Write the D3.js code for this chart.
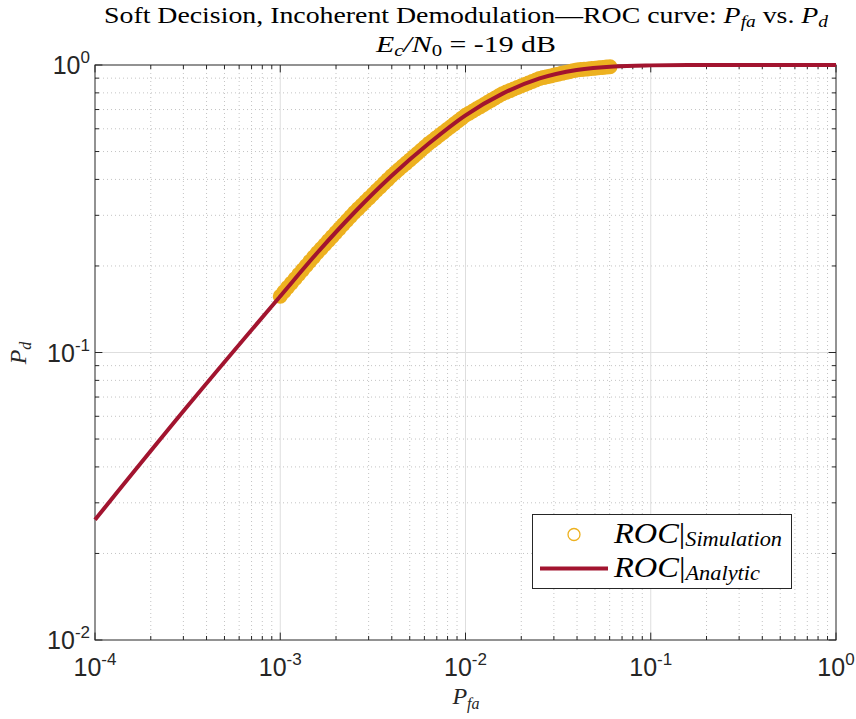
<!DOCTYPE html>
<html><head><meta charset="utf-8">
<script src="https://cdn.jsdelivr.net/npm/d3@7"></script>
<style>body{margin:0;background:#fff} svg{display:block}</style>
</head><body><div id="chart"></div>
<script>
// ---------- data ----------
const xTickValues = [1e-4, 1e-3, 1e-2, 1e-1, 1];
const xTickExponents = ["-4", "-3", "-2", "-1", "0"];
const yTickValues = [1e-2, 1e-1, 1];
const yTickExponents = ["-2", "-1", "0"];

const analyticPfa = [1e-4, 3.162e-4, 1e-3, 1.585e-3, 2.512e-3, 3.981e-3, 6.310e-3, 1e-2,
  1.585e-2, 2.512e-2, 3.981e-2, 6.310e-2, 0.1, 0.1585, 0.2512, 1];
const analyticPd = [0.0262, 0.0651, 0.157, 0.2223, 0.3069, 0.4111, 0.5321, 0.6683,
  0.7951, 0.8981, 0.9610, 0.9890, 0.9970, 0.9995, 1.0, 1.0];

const simPfa = [
  1.000e-3,1.047e-3,1.096e-3,1.148e-3,1.202e-3,1.259e-3,1.318e-3,1.380e-3,1.445e-3,1.514e-3,
  1.585e-3,1.660e-3,1.738e-3,1.820e-3,1.905e-3,1.995e-3,2.089e-3,2.188e-3,2.291e-3,2.399e-3,
  2.512e-3,2.630e-3,2.754e-3,2.884e-3,3.020e-3,3.162e-3,3.311e-3,3.467e-3,3.631e-3,3.802e-3,
  3.981e-3,4.169e-3,4.365e-3,4.571e-3,4.786e-3,5.012e-3,5.248e-3,5.495e-3,5.754e-3,6.026e-3,
  6.310e-3,6.607e-3,6.918e-3,7.244e-3,7.586e-3,7.943e-3,8.318e-3,8.710e-3,9.120e-3,9.550e-3,
  1.000e-2,1.047e-2,1.096e-2,1.148e-2,1.202e-2,1.259e-2,1.318e-2,1.380e-2,1.445e-2,1.514e-2,
  1.585e-2,1.660e-2,1.738e-2,1.820e-2,1.905e-2,1.995e-2,2.089e-2,2.188e-2,2.291e-2,2.399e-2,
  2.512e-2,2.630e-2,2.754e-2,2.884e-2,3.020e-2,3.162e-2,3.311e-2,3.467e-2,3.631e-2,3.802e-2,
  3.981e-2,4.169e-2,4.365e-2,4.571e-2,4.786e-2,5.012e-2,5.248e-2,5.495e-2,5.754e-2,6.026e-2];
const simPd = [
  0.1570,0.1626,0.1684,0.1743,0.1805,0.1869,0.1935,0.2003,0.2074,0.2147,0.2223,
  0.2296,0.2371,0.2449,0.2529,0.2612,0.2698,0.2786,0.2877,0.2972,0.3069,
  0.3160,0.3254,0.3350,0.3450,0.3552,0.3658,0.3766,0.3878,0.3993,0.4111,
  0.4219,0.4329,0.4442,0.4558,0.4677,0.4799,0.4925,0.5053,0.5185,0.5321,
  0.5443,0.5569,0.5697,0.5829,0.5963,0.6101,0.6241,0.6385,0.6533,0.6683,
  0.6800,0.6920,0.7041,0.7165,0.7290,0.7417,0.7548,0.7679,0.7815,0.7951,
  0.8049,0.8147,0.8247,0.8348,0.8449,0.8552,0.8658,0.8764,0.8872,0.8981,
  0.9041,0.9103,0.9164,0.9228,0.9290,0.9352,0.9417,0.9480,0.9546,0.9610,
  0.9637,0.9665,0.9693,0.9721,0.9749,0.9777,0.9805,0.9833,0.9862];

// ---------- layout ----------
const W = 856, H = 719;
const L = 95, R = 836, T = 65, B = 640;
const AX = "#262626";
const YELLOW = "#EDB120", RED = "#A2142F";
const SERIF = "'Liberation Serif','Times New Roman',serif";
const SANS = "'Liberation Sans',Arial,Helvetica,sans-serif";

const x = d3.scaleLog().domain([1e-4, 1]).range([L, R]);
const y = d3.scaleLog().domain([1e-2, 1]).range([B, T]);

const svg = d3.select("#chart").append("svg").attr("width", W).attr("height", H)
  .style("background", "#fff");

const xAll = x.ticks();   // 1..9 per decade
const yAll = y.ticks();
const isMajor = v => Math.abs(Math.log10(v) - Math.round(Math.log10(v))) < 1e-9;

// grid
const grid = svg.append("g");
grid.selectAll(".xminor").data(xAll.filter(v => !isMajor(v))).enter().append("line")
  .attr("x1", d => x(d)).attr("x2", d => x(d)).attr("y1", T).attr("y2", B)
  .attr("stroke", "#c4c4c4").attr("stroke-width", 1).attr("stroke-dasharray", "1,3");
grid.selectAll(".yminor").data(yAll.filter(v => !isMajor(v))).enter().append("line")
  .attr("y1", d => y(d)).attr("y2", d => y(d)).attr("x1", L).attr("x2", R)
  .attr("stroke", "#c4c4c4").attr("stroke-width", 1).attr("stroke-dasharray", "1,3");
grid.selectAll(".xmajor").data(xTickValues.slice(1, -1)).enter().append("line")
  .attr("x1", d => x(d)).attr("x2", d => x(d)).attr("y1", T).attr("y2", B)
  .attr("stroke", "#dedede").attr("stroke-width", 1);
grid.selectAll(".ymajor").data(yTickValues.slice(1, -1)).enter().append("line")
  .attr("y1", d => y(d)).attr("y2", d => y(d)).attr("x1", L).attr("x2", R)
  .attr("stroke", "#dedede").attr("stroke-width", 1);

// axes (box with inward ticks)
const axG = svg.append("g");
axG.append("rect").attr("x", L).attr("y", T).attr("width", R - L).attr("height", B - T)
  .attr("fill", "none").attr("stroke", AX).attr("stroke-width", 1);
const tl = v => isMajor(v) ? 7.4 : 4;
axG.selectAll(".xtb").data(xAll).enter().append("line")
  .attr("x1", d => x(d)).attr("x2", d => x(d)).attr("y1", B).attr("y2", d => B - tl(d))
  .attr("stroke", AX);
axG.selectAll(".xtt").data(xAll).enter().append("line")
  .attr("x1", d => x(d)).attr("x2", d => x(d)).attr("y1", T).attr("y2", d => T + tl(d))
  .attr("stroke", AX);
axG.selectAll(".ytl").data(yAll).enter().append("line")
  .attr("y1", d => y(d)).attr("y2", d => y(d)).attr("x1", L).attr("x2", d => L + tl(d))
  .attr("stroke", AX);
axG.selectAll(".ytr").data(yAll).enter().append("line")
  .attr("y1", d => y(d)).attr("y2", d => y(d)).attr("x1", R).attr("x2", d => R - tl(d))
  .attr("stroke", AX);

// tick labels
const xl = svg.append("g").attr("font-family", SANS).attr("fill", AX);
xTickValues.forEach((v, i) => {
  const t = xl.append("text").attr("x", x(v)).attr("y", 676).attr("text-anchor", "middle")
    .attr("font-size", 25).attr("fill", AX);
  t.append("tspan").text("10");
  t.append("tspan").attr("font-size", 17).attr("dy", -11).text(xTickExponents[i]);
});
yTickValues.forEach((v, i) => {
  const t = xl.append("text").attr("x", 90).attr("y", y(v) + 9).attr("text-anchor", "end")
    .attr("font-size", 25).attr("fill", AX);
  t.append("tspan").text("10");
  t.append("tspan").attr("font-size", 17).attr("dy", -11).text(yTickExponents[i]);
});

// simulation markers
svg.append("g").selectAll("circle").data(simPfa.map((p, i) => [p, simPd[i]])).enter()
  .append("circle")
  .attr("cx", d => x(d[0])).attr("cy", d => y(d[1])).attr("r", 5)
  .attr("fill", "none").attr("stroke", YELLOW).attr("stroke-width", 5);

// analytic line
const line = d3.line().x(d => x(d[0])).y(d => y(d[1])).curve(d3.curveMonotoneX);
svg.append("path").datum(analyticPfa.map((p, i) => [p, analyticPd[i]]))
  .attr("d", line).attr("fill", "none").attr("stroke", RED).attr("stroke-width", 4)
  .attr("stroke-linejoin", "round");

// axis labels
const ylab = svg.append("text").attr("transform", "translate(26,353) rotate(-90)")
  .attr("text-anchor", "middle").attr("font-family", SERIF).attr("font-size", 24).attr("fill", AX);
ylab.append("tspan").attr("font-style", "italic").text("P");
ylab.append("tspan").attr("font-style", "italic").attr("font-size", 16).attr("dy", 5).text("d");

const xlab = svg.append("text").attr("x", 466).attr("y", 704).attr("text-anchor", "middle")
  .attr("font-family", SERIF).attr("font-size", 24).attr("fill", AX);
xlab.append("tspan").attr("font-style", "italic").text("P");
xlab.append("tspan").attr("font-style", "italic").attr("font-size", 16).attr("dy", 5).text("fa");

// title
const t1 = svg.append("text").attr("x", 466).attr("y", 23).attr("text-anchor", "middle")
  .attr("font-family", SERIF).attr("font-size", 23).attr("fill", "#000")
  .attr("textLength", 724).attr("lengthAdjust", "spacingAndGlyphs");
t1.append("tspan").text("Soft Decision, Incoherent Demodulation\u2014ROC curve: ");
t1.append("tspan").attr("font-style", "italic").text("P");
t1.append("tspan").attr("font-style", "italic").attr("font-size", 16).attr("dy", 4).text("fa");
t1.append("tspan").attr("dy", -4).text(" vs. ");
t1.append("tspan").attr("font-style", "italic").text("P");
t1.append("tspan").attr("font-style", "italic").attr("font-size", 16).attr("dy", 4).text("d");

const t2 = svg.append("text").attr("x", 466).attr("y", 52).attr("text-anchor", "middle")
  .attr("font-family", SERIF).attr("font-size", 23).attr("fill", "#000")
  .attr("textLength", 180).attr("lengthAdjust", "spacingAndGlyphs");
t2.append("tspan").attr("font-style", "italic").text("E");
t2.append("tspan").attr("font-style", "italic").attr("font-size", 16).attr("dy", 4).text("c");
t2.append("tspan").attr("dy", -4).attr("font-style", "italic").text("/N");
t2.append("tspan").attr("font-size", 16).attr("dy", 4).text("0");
t2.append("tspan").attr("dy", -4).text(" = -19 dB");

// legend
const lg = svg.append("g");
lg.append("rect").attr("x", 532.5).attr("y", 514.5).attr("width", 259).attr("height", 74)
  .attr("fill", "#fff").attr("stroke", AX).attr("stroke-width", 1);
lg.append("circle").attr("cx", 574).attr("cy", 534.5).attr("r", 6)
  .attr("fill", "none").attr("stroke", YELLOW).attr("stroke-width", 1.3);
lg.append("line").attr("x1", 540).attr("x2", 608).attr("y1", 568.5).attr("y2", 568.5)
  .attr("stroke", RED).attr("stroke-width", 4);
function legText(yb, sub, len) {
  const t = lg.append("text").attr("x", 614).attr("y", yb).attr("font-family", SERIF)
    .attr("font-size", 29).attr("fill", "#000")
    .attr("textLength", len).attr("lengthAdjust", "spacingAndGlyphs");
  t.append("tspan").attr("font-style", "italic").text("ROC");
  t.append("tspan").text("|");
  t.append("tspan").attr("font-style", "italic").attr("font-size", 20).attr("dy", 3).text(sub);
}
legText(543, "Simulation", 168);
legText(577, "Analytic", 146);
</script></body></html>
